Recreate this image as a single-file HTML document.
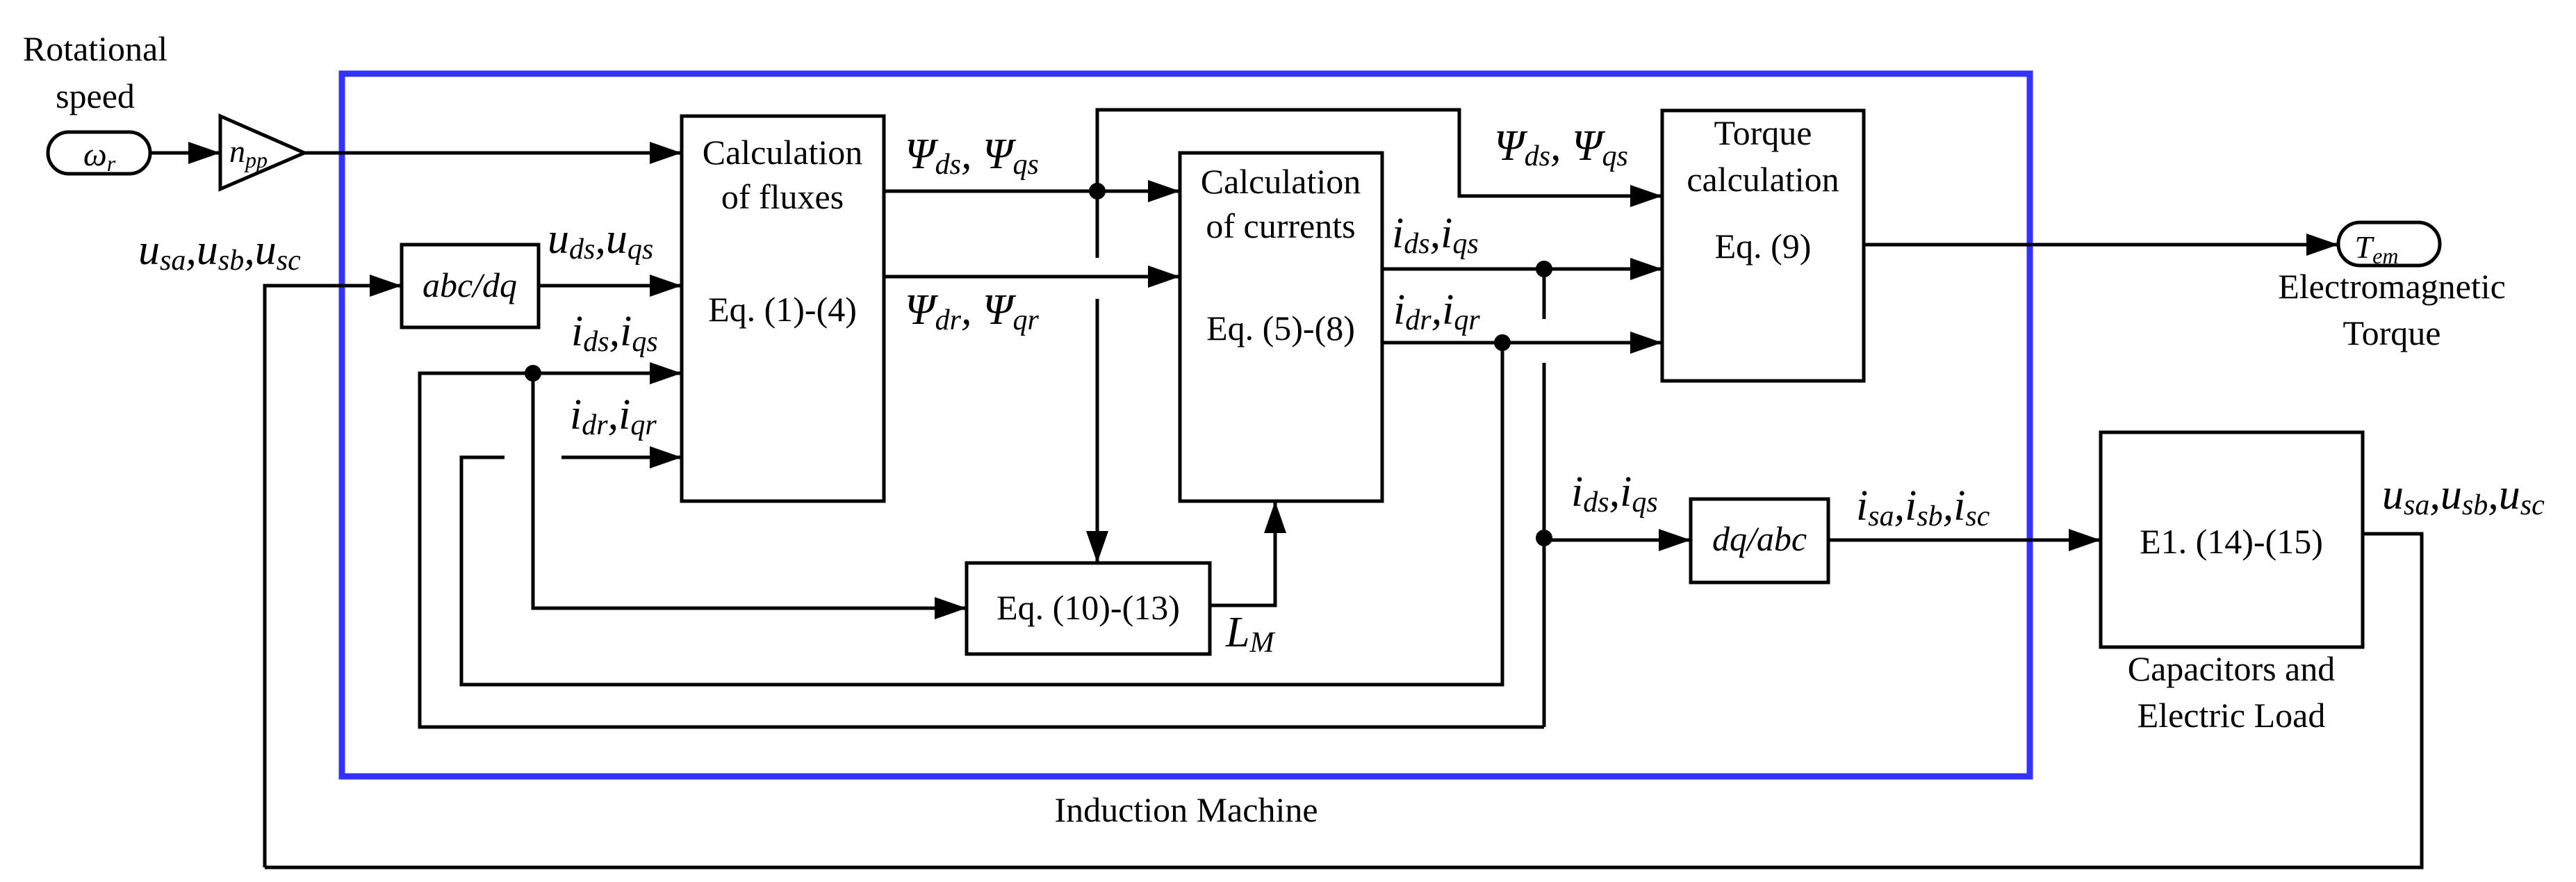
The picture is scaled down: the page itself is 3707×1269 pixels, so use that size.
<!DOCTYPE html>
<html><head><meta charset="utf-8"><style>html,body{margin:0;padding:0;background:#fff}svg{display:block}</style></head>
<body style="font-family:'Liberation Serif',serif">
<svg width="3707" height="1269" viewBox="0 0 3707 1269" xmlns="http://www.w3.org/2000/svg" font-family="Liberation Serif, serif" style="font-family:'Liberation Serif',serif">
<defs>
<marker id="a" markerUnits="userSpaceOnUse" markerWidth="50" markerHeight="34" refX="46" refY="16" orient="auto"><path d="M0,0 L46,16 L0,32 z" fill="#000"/></marker>
</defs>
<rect x="0" y="0" width="3707" height="1269" fill="#fff"/>
<rect x="492" y="106" width="2429" height="1011" fill="none" stroke="#3333ff" stroke-width="9"/>
<g fill="none" stroke="#000" stroke-width="5">
<rect x="69" y="190" width="147" height="60" rx="30"/>
<polygon points="317,167 438,220 317,272"/>
<rect x="981" y="167" width="291" height="554"/>
<rect x="578" y="352" width="197" height="119"/>
<rect x="1698" y="220" width="291" height="501"/>
<rect x="1391" y="810" width="350" height="131"/>
<rect x="2392" y="159" width="290" height="389"/>
<rect x="2433" y="718" width="198" height="120"/>
<rect x="3023" y="622" width="377" height="309"/>
<rect x="3365" y="320" width="146" height="62" rx="31"/>
<path d="M216,220 H317" marker-end="url(#a)"/>
<path d="M438,220 H981" marker-end="url(#a)"/>
<path d="M381,1248 V411 H578" marker-end="url(#a)"/>
<path d="M775,411 H981" marker-end="url(#a)"/>
<path d="M2222,1046 H604 V537 H981" marker-end="url(#a)"/>
<path d="M726,658 H664 V985 H2162 V493"/>
<path d="M808,658 H981" marker-end="url(#a)"/>
<path d="M767,537 V875 H1391" marker-end="url(#a)"/>
<path d="M1272,275 H1698" marker-end="url(#a)"/>
<path d="M1272,398 H1698" marker-end="url(#a)"/>
<path d="M1579,371 V158 H2100 V282 H2392" marker-end="url(#a)"/>
<path d="M1579,430 V810" marker-end="url(#a)"/>
<path d="M1741,871 H1835 V721" marker-end="url(#a)"/>
<path d="M1989,387 H2392" marker-end="url(#a)"/>
<path d="M1989,493 H2392" marker-end="url(#a)"/>
<path d="M2222,387 V459"/>
<path d="M2222,522 V1046"/>
<path d="M2222,777 H2433" marker-end="url(#a)"/>
<path d="M2631,777 H3023" marker-end="url(#a)"/>
<path d="M2682,352 H3365" marker-end="url(#a)"/>
<path d="M3400,768 H3485 V1248 H381"/>
</g>
<g fill="#000">
<circle cx="767" cy="537" r="12"/>
<circle cx="1579" cy="275" r="12"/>
<circle cx="2222" cy="387" r="12"/>
<circle cx="2162" cy="493" r="12"/>
<circle cx="2222" cy="774" r="12"/>
</g>
<g font-size="50" text-anchor="middle" fill="#000" font-family="Liberation Serif, serif" style="font-family:'Liberation Serif',serif">
<text x="137" y="87">Rotational</text>
<text x="137" y="155">speed</text>
<text x="1126" y="236">Calculation</text>
<text x="1126" y="300">of fluxes</text>
<text x="1126" y="462">Eq. (1)-(4)</text>
<text x="1843" y="278">Calculation</text>
<text x="1843" y="342">of currents</text>
<text x="1843" y="489">Eq. (5)-(8)</text>
<text x="1566" y="891">Eq. (10)-(13)</text>
<text x="2537" y="208">Torque</text>
<text x="2537" y="275">calculation</text>
<text x="2537" y="371">Eq. (9)</text>
<text x="3211" y="796">E1. (14)-(15)</text>
<text x="3211" y="979">Capacitors and</text>
<text x="3211" y="1046">Electric Load</text>
<text x="3442" y="429">Electromagnetic</text>
<text x="3442" y="496">Torque</text>
<text x="1707" y="1182">Induction Machine</text>
</g>
<g font-style="italic" fill="#000" font-family="Liberation Serif, serif" style="font-family:'Liberation Serif',serif">
<text x="143" y="238" font-size="48" text-anchor="middle">ω<tspan font-size="32" dy="8">r</tspan></text>
<text x="330" y="233" font-size="46">n<tspan font-size="32" dy="8">pp</tspan></text>
<text x="676" y="427" font-size="50" text-anchor="middle">abc/dq</text>
<text x="2532" y="792" font-size="50" text-anchor="middle">dq/abc</text>
<text x="3420" y="371" font-size="46" text-anchor="middle">T<tspan font-size="32" dy="8">em</tspan></text>
<g font-size="62">
<text x="199" y="380">u<tspan font-size="42" dy="8">sa</tspan><tspan dy="-8">,u</tspan><tspan font-size="42" dy="8">sb</tspan><tspan dy="-8">,u</tspan><tspan font-size="42" dy="8">sc</tspan></text>
<text x="3428" y="732">u<tspan font-size="42" dy="8">sa</tspan><tspan dy="-8">,u</tspan><tspan font-size="42" dy="8">sb</tspan><tspan dy="-8">,u</tspan><tspan font-size="42" dy="8">sc</tspan></text>
<text x="788" y="364">u<tspan font-size="42" dy="8">ds</tspan><tspan dy="-8">,u</tspan><tspan font-size="42" dy="8">qs</tspan></text>
<text x="822" y="497">i<tspan font-size="42" dy="8">ds</tspan><tspan dy="-8">,i</tspan><tspan font-size="42" dy="8">qs</tspan></text>
<text x="820" y="617">i<tspan font-size="42" dy="8">dr</tspan><tspan dy="-8">,i</tspan><tspan font-size="42" dy="8">qr</tspan></text>
<text x="1302" y="242">Ψ<tspan font-size="42" dy="8">ds</tspan><tspan dy="-8">, Ψ</tspan><tspan font-size="42" dy="8">qs</tspan></text>
<text x="1302" y="466">Ψ<tspan font-size="42" dy="8">dr</tspan><tspan dy="-8">, Ψ</tspan><tspan font-size="42" dy="8">qr</tspan></text>
<text x="2150" y="230">Ψ<tspan font-size="42" dy="8">ds</tspan><tspan dy="-8">, Ψ</tspan><tspan font-size="42" dy="8">qs</tspan></text>
<text x="2003" y="356">i<tspan font-size="42" dy="8">ds</tspan><tspan dy="-8">,i</tspan><tspan font-size="42" dy="8">qs</tspan></text>
<text x="2005" y="466">i<tspan font-size="42" dy="8">dr</tspan><tspan dy="-8">,i</tspan><tspan font-size="42" dy="8">qr</tspan></text>
<text x="2261" y="728">i<tspan font-size="42" dy="8">ds</tspan><tspan dy="-8">,i</tspan><tspan font-size="42" dy="8">qs</tspan></text>
<text x="2671" y="748">i<tspan font-size="42" dy="8">sa</tspan><tspan dy="-8">,i</tspan><tspan font-size="42" dy="8">sb</tspan><tspan dy="-8">,i</tspan><tspan font-size="42" dy="8">sc</tspan></text>
<text x="1764" y="930">L<tspan font-size="42" dy="8">M</tspan></text>
</g>
</g>
</svg>
</body></html>
